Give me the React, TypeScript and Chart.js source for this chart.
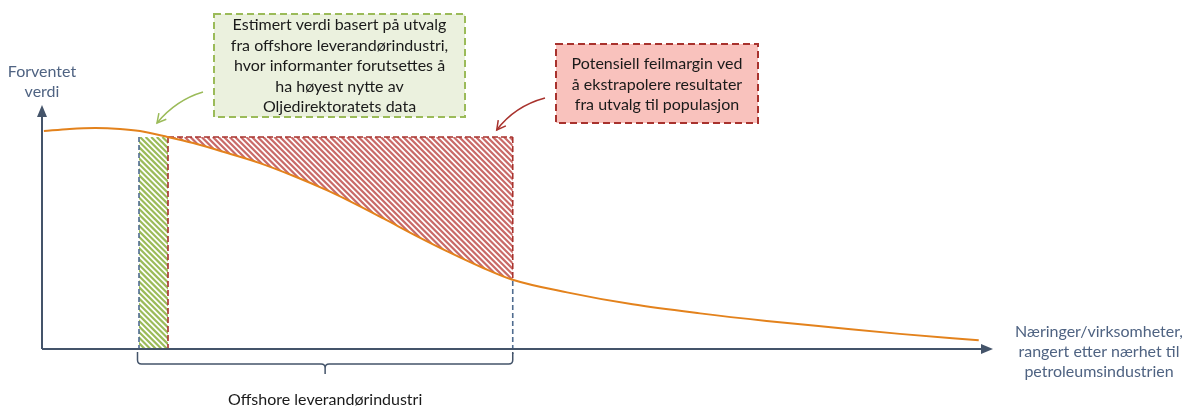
import React, { useEffect, useRef } from "react";
import { Chart, registerables } from "chart.js";

Chart.register(...registerables);

// ---- data (x: rank of industries by closeness, y: expected value) ----
const rank = [0.2, 2.9, 5.6, 8.2, 10.3, 13.2, 15.9, 19.5, 22.9, 26.4, 30.0, 32.4, 35.9, 39.4, 42.9, 46.4, 49.4, 55.2, 62.1, 69.2, 76.2, 83.2, 90.2, 98.5];
const expectedValue = [89.3, 90.2, 90.6, 90.2, 89.3, 86.9, 84.4, 80.3, 76.2, 71.0, 65.0, 60.5, 53.5, 46.3, 39.5, 33.2, 28.5, 23.2, 18.3, 14.6, 11.5, 8.8, 6.2, 3.6];
const sampleRange = [10.2, 13.25];
const offshoreRange = [10.2, 49.5];
const referenceLevel = 86.9;

// ---- texts ----
const yAxisTitle = ["Forventet", "verdi"];
const xAxisTitle = ["Næringer/virksomheter,", "rangert etter nærhet til", "petroleumsindustrien"];
const braceLabel = "Offshore leverandørindustri";
const sampleNote = [
  "Estimert verdi basert på utvalg",
  "fra offshore leverandørindustri,",
  "hvor informanter forutsettes å",
  "ha høyest nytte av",
  "Oljedirektoratets data",
];
const errorNote = ["Potensiell feilmargin ved", "å ekstrapolere resultater", "fra utvalg til populasjon"];

// ---- styles ----
const FONT_FAMILY = "Lato, 'Open Sans', sans-serif";
const AXIS_COLOR = "#44546a";
const AXIS_TEXT = "#4f6382";
const CURVE_COLOR = "#e3821c";
const GREEN = "#9bbb59";
const GREEN_FILL = "#ebf1de";
const RED_HATCH = "rgba(192,80,77,0.85)";
const RED_LINE = "#a8322d";
const RED_FILL = "#f9c2bd";
const BLUE_DASH = "#4f6b8f";

function hatch(ctx: CanvasRenderingContext2D, x: number, y: number, w: number, h: number, color: string) {
  ctx.strokeStyle = color;
  ctx.lineWidth = 2.2;
  ctx.setLineDash([]);
  ctx.beginPath();
  const step = 5.6;
  const start = Math.floor((x - h) / step) * step;
  for (let k = start; k < x + w + h; k += step) {
    ctx.moveTo(k, y);
    ctx.lineTo(k + h, y + h);
  }
  ctx.stroke();
}

function vLine(ctx: CanvasRenderingContext2D, x: number, y1: number, y2: number, color: string, dash: number[]) {
  ctx.strokeStyle = color;
  ctx.lineWidth = 1.6;
  ctx.setLineDash(dash);
  ctx.beginPath();
  ctx.moveTo(x, y1);
  ctx.lineTo(x, y2);
  ctx.stroke();
}

function arrowCurve(ctx: CanvasRenderingContext2D, sx: number, sy: number, cx: number, cy: number, ex: number, ey: number, color: string) {
  ctx.strokeStyle = color;
  ctx.lineWidth = 1.5;
  ctx.setLineDash([]);
  ctx.beginPath();
  ctx.moveTo(sx, sy);
  ctx.quadraticCurveTo(cx, cy, ex, ey);
  ctx.stroke();
  const ang = Math.atan2(ey - cy, ex - cx);
  const len = 10;
  ctx.beginPath();
  ctx.moveTo(ex - len * Math.cos(ang - 0.5), ey - len * Math.sin(ang - 0.5));
  ctx.lineTo(ex, ey);
  ctx.lineTo(ex - len * Math.cos(ang + 0.5), ey - len * Math.sin(ang + 0.5));
  ctx.stroke();
}

function noteBox(ctx: CanvasRenderingContext2D, x: number, y: number, w: number, h: number, fill: string, stroke: string, lines: string[], firstY: number, lineH: number) {
  ctx.fillStyle = fill;
  ctx.fillRect(x, y, w, h);
  ctx.strokeStyle = stroke;
  ctx.lineWidth = 2;
  ctx.setLineDash([7, 4]);
  ctx.strokeRect(x, y, w, h);
  ctx.setLineDash([]);
  ctx.fillStyle = "#1a1a1a";
  ctx.font = `16px ${FONT_FAMILY}`;
  ctx.textAlign = "center";
  ctx.textBaseline = "middle";
  lines.forEach((t, i) => ctx.fillText(t, x + w / 2, firstY + i * lineH));
}

function yRef(ys: any) {
  return ys.getPixelForValue(referenceLevel);
}

const diagramPlugin = {
  id: "diagram",
  beforeDatasetsDraw(chart: any) {
    const ctx: CanvasRenderingContext2D = chart.ctx;
    const xs = chart.scales.x;
    const ys = chart.scales.y;
    const area = chart.chartArea;
    const line: any = chart.getDatasetMeta(0).dataset;
    if (line.updateControlPoints) line.updateControlPoints(area, "x");
    const pts = line.points || [];
    const trace = () => {
      if (typeof line.path === "function") line.path(ctx);
      else pts.forEach((p: any, i: number) => (i ? ctx.lineTo(p.x, p.y) : ctx.moveTo(p.x, p.y)));
    };
    const first = pts[0];
    const last = pts[pts.length - 1];
    const clipAbove = () => {
      ctx.beginPath();
      trace();
      ctx.lineTo(last.x, 0);
      ctx.lineTo(first.x, 0);
      ctx.closePath();
      ctx.clip();
    };
    const clipBelow = () => {
      ctx.beginPath();
      trace();
      ctx.lineTo(last.x, chart.height);
      ctx.lineTo(first.x, chart.height);
      ctx.closePath();
      ctx.clip();
    };

    const sx0 = xs.getPixelForValue(sampleRange[0]);
    const sx1 = xs.getPixelForValue(sampleRange[1]);
    const ox1 = xs.getPixelForValue(offshoreRange[1]);
    const yr = yRef(ys);
    const y0 = ys.getPixelForValue(0);

    // green hatch (sample)
    ctx.save();
    ctx.beginPath();
    ctx.rect(sx0, yr, sx1 - sx0, y0 - yr);
    ctx.clip();
    hatch(ctx, sx0, yr, sx1 - sx0, y0 - yr, GREEN);
    ctx.restore();

    // red hatch (error margin) above the curve
    ctx.save();
    clipAbove();
    ctx.beginPath();
    ctx.rect(sx1, yr, ox1 - sx1, y0 - yr);
    ctx.clip();
    hatch(ctx, sx1, yr, ox1 - sx1, y0 - yr, RED_HATCH);
    ctx.restore();

    // dashed borders
    ctx.save();
    vLine(ctx, sx0, yr, y0, BLUE_DASH, [5, 3]);
    vLine(ctx, sx1, yr, y0, RED_LINE, [6, 3]);
    ctx.strokeStyle = RED_LINE;
    ctx.lineWidth = 1.6;
    ctx.setLineDash([6, 3]);
    ctx.beginPath();
    ctx.moveTo(sx1, yr);
    ctx.lineTo(ox1, yr);
    ctx.stroke();
    ctx.restore();

    ctx.save();
    clipAbove();
    vLine(ctx, ox1, yr, y0, RED_LINE, [6, 3]);
    ctx.restore();

    ctx.save();
    clipBelow();
    vLine(ctx, ox1, yr, y0 + 5, BLUE_DASH, [5, 3]);
    ctx.restore();
  },
  afterDraw(chart: any) {
    const ctx: CanvasRenderingContext2D = chart.ctx;
    const xs = chart.scales.x;
    const ys = chart.scales.y;
    const area = chart.chartArea;
    const x0 = area.left;
    const y0 = ys.getPixelForValue(0);

    ctx.save();
    // axes
    ctx.strokeStyle = AXIS_COLOR;
    ctx.fillStyle = AXIS_COLOR;
    ctx.lineWidth = 2;
    ctx.setLineDash([]);
    ctx.beginPath();
    ctx.moveTo(x0, y0);
    ctx.lineTo(x0, area.top + 10);
    ctx.moveTo(x0, y0);
    ctx.lineTo(area.right - 10, y0);
    ctx.stroke();
    ctx.beginPath();
    ctx.moveTo(x0, area.top);
    ctx.lineTo(x0 - 5, area.top + 12);
    ctx.lineTo(x0 + 5, area.top + 12);
    ctx.closePath();
    ctx.fill();
    ctx.beginPath();
    ctx.moveTo(area.right, y0);
    ctx.lineTo(area.right - 12, y0 - 5);
    ctx.lineTo(area.right - 12, y0 + 5);
    ctx.closePath();
    ctx.fill();

    // axis titles
    ctx.font = `16px ${FONT_FAMILY}`;
    ctx.fillStyle = AXIS_TEXT;
    ctx.textAlign = "center";
    ctx.textBaseline = "middle";
    yAxisTitle.forEach((t, i) => ctx.fillText(t, x0, 72 + i * 20));
    xAxisTitle.forEach((t, i) => ctx.fillText(t, area.right + 106, 332 + i * 20));

    // brace under offshore range
    const bx0 = xs.getPixelForValue(offshoreRange[0]) - 1.5;
    const bx1 = xs.getPixelForValue(offshoreRange[1]);
    const bm = (bx0 + bx1) / 2;
    const top = y0 + 3;
    const mid = y0 + 15;
    const tip = y0 + 25;
    ctx.strokeStyle = AXIS_COLOR;
    ctx.lineWidth = 1.5;
    ctx.beginPath();
    ctx.moveTo(bx0, top);
    ctx.lineTo(bx0, mid - 4);
    ctx.quadraticCurveTo(bx0, mid, bx0 + 4, mid);
    ctx.lineTo(bm - 4, mid);
    ctx.quadraticCurveTo(bm, mid, bm, mid + 4);
    ctx.lineTo(bm, tip);
    ctx.moveTo(bm, mid + 4);
    ctx.quadraticCurveTo(bm, mid, bm + 4, mid);
    ctx.lineTo(bx1 - 4, mid);
    ctx.quadraticCurveTo(bx1, mid, bx1, mid - 4);
    ctx.lineTo(bx1, top);
    ctx.stroke();
    ctx.font = `16px ${FONT_FAMILY}`;
    ctx.fillStyle = "#1a1a1a";
    ctx.fillText(braceLabel, bm, 400);

    // callouts
    noteBox(ctx, 214, 14, 251, 103, GREEN_FILL, GREEN, sampleNote, 25, 20.5);
    noteBox(ctx, 556, 44, 202, 79, RED_FILL, RED_LINE, errorNote, 64, 20.5);

    const sx = xs.getPixelForValue(sampleRange[0]);
    arrowCurve(ctx, 203, 92, 176, 100, sx + 18, yRef(ys) - 14, GREEN);
    const ox = xs.getPixelForValue(offshoreRange[1]);
    arrowCurve(ctx, 545, 98, 515, 106, ox - 16, yRef(ys) - 7, RED_LINE);
    ctx.restore();
  },
};

export default function App() {
  const ref = useRef<HTMLCanvasElement>(null);
  useEffect(() => {
    const canvas = ref.current!;
    const chart = new Chart(canvas, {
      type: "line",
      data: {
        datasets: [
          {
            data: rank.map((x, i) => ({ x, y: expectedValue[i] })),
            borderColor: CURVE_COLOR,
            borderWidth: 2,
            pointRadius: 0,
            cubicInterpolationMode: "monotone",
            fill: false,
          },
        ],
      },
      options: {
        animation: false,
        responsive: false,
        devicePixelRatio: 1,
        events: [],
        layout: { padding: { left: 42, right: 196, top: 105, bottom: 60 } },
        scales: {
          x: { type: "linear", min: 0, max: 100, display: false },
          y: { type: "linear", min: 0, max: 100, display: false },
        },
        plugins: { legend: { display: false }, tooltip: { enabled: false } },
      },
      plugins: [diagramPlugin],
    } as any);
    return () => chart.destroy();
  }, []);
  return (
    <div style={{ position: "fixed", left: 0, top: 0, width: 1189, height: 409, background: "#fff" }}>
      <canvas ref={ref} width={1189} height={409} style={{ display: "block" }} />
    </div>
  );
}
